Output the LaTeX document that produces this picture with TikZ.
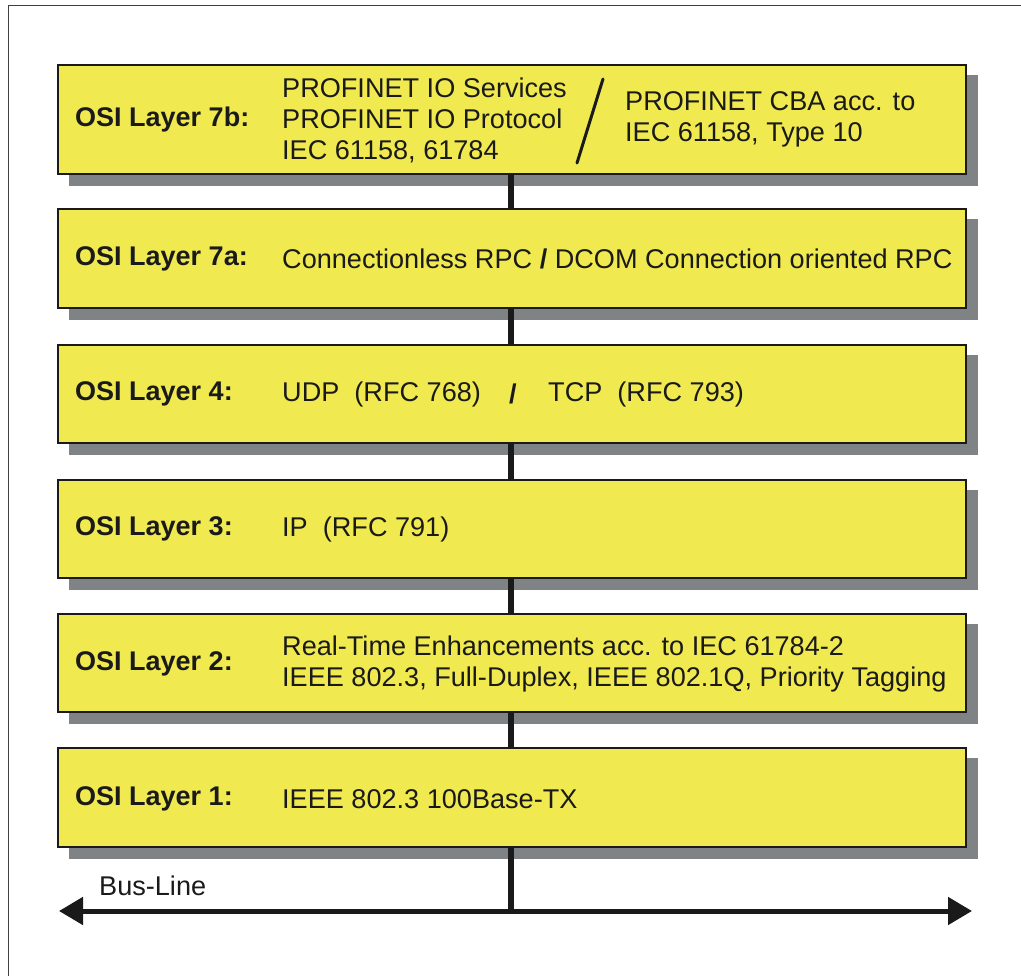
\documentclass[tikz,border=0pt]{standalone}
\usepackage{fontspec}
\setmainfont{Liberation Sans}
\usetikzlibrary{arrows.meta}
\definecolor{boxyellow}{HTML}{F0EA50}
\definecolor{shadowgray}{HTML}{7F8386}
\definecolor{inkblack}{HTML}{1A1A1A}
\begin{document}
\begin{tikzpicture}[x=1pt,y=-1pt,
  layerbox/.style={draw=inkblack,line width=2.6pt,fill=boxyellow},
  shadowbox/.style={fill=shadowgray},
  lbl/.style={anchor=west,inner sep=0pt,font=\fontsize{27}{31}\selectfont\bfseries,text=inkblack},
  txt/.style={anchor=west,inner sep=0pt,font=\fontsize{27.1}{31}\selectfont,text=inkblack,align=left},
  link/.style={draw=inkblack,line width=5.8pt},
  bus/.style={draw=inkblack,line width=5pt,{Triangle[length=24pt,width=27pt]}-{Triangle[length=24pt,width=27pt]}}
]
\useasboundingbox (0,0) rectangle (1021,976);
\draw[line width=1.5pt,draw=black!75] (8.5,990) -- (8.5,5.5) -- (1030,5.5);
% boxes: top, bottom
\foreach \n/\t/\b in {b7b/65/174, b7a/209/308, b4/345/443, b3/480/578, b2/614/712, b1/748/847}{
  \fill[shadowbox] (69,\t+10) rectangle (978,\b+12);
  \path[layerbox] (58,\t) rectangle (966,\b);
  \coordinate (\n-top) at (511,\t);
  \coordinate (\n-bot) at (511,\b+1.3);
}
% connectors
\draw[link] (b7b-bot) -- (b7a-top);
\draw[link] (b7a-bot) -- (b4-top);
\draw[link] (b4-bot) -- (b3-top);
\draw[link] (b3-bot) -- (b2-top);
\draw[link] (b2-bot) -- (b1-top);
\coordinate (busL) at (59,911);
\coordinate (busR) at (972,911);
\coordinate (busM) at (511,911);
\draw[link] (b1-bot) -- (busM);
\draw[bus] (busL) -- (busR);
% labels
\node[lbl] (l7b) at (75,120) {OSI Layer 7b:};
\node[lbl] (l7a) at (75,259) {OSI Layer 7a:};
\node[lbl] (l4) at (75,394) {OSI Layer 4:};
\node[lbl] (l3) at (75,529) {OSI Layer 3:};
\node[lbl] (l2) at (75,664) {OSI Layer 2:};
\node[lbl] (l1) at (75,799) {OSI Layer 1:};
% texts
\node[txt] (t7b1) at (282,120) {PROFINET IO Services\\PROFINET IO Protocol\\IEC 61158, 61784};
\node[txt] (t7b2) at (625,119) {PROFINET CBA acc. to\\IEC 61158, Type 10};
\coordinate (slT) at (603,79);
\coordinate (slB) at (577,163);
\draw[draw=inkblack,line width=3pt,line cap=round] (slT) -- (slB);
\node[txt] (t7a) at (282,259) {Connectionless RPC \textbf{/} DCOM Connection oriented RPC};
\node[txt] (t4a) at (282,394) {UDP\ \ (RFC 768)};
\node[txt] (t4s) at (509,394) {\textbf{/}};
\node[txt] (t4b) at (548,394) {TCP\ \ (RFC 793)};
\node[txt] (t3) at (282,529) {IP\ \ (RFC 791)};
\node[txt] (t2) at (282,664) {Real-Time Enhancements acc. to IEC 61784-2\\IEEE 802.3, Full-Duplex, IEEE 802.1Q, Priority Tagging};
\node[txt] (t1) at (282,799) {IEEE 802.3 100Base-TX};
\node[txt] (busl) at (99,886) {Bus-Line};
\end{tikzpicture}
\end{document}
